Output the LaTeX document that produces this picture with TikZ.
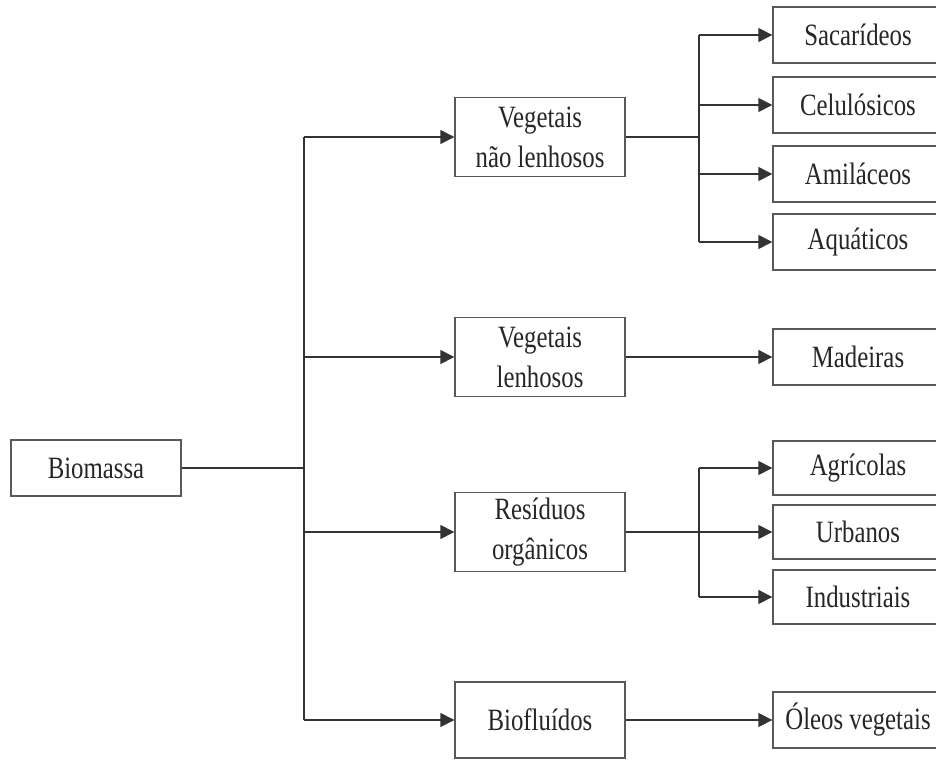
\documentclass[tikz,border=0pt]{standalone}
\usepackage{fontspec}
\setmainfont{Liberation Serif}[FakeStretch=0.8]
\usetikzlibrary{arrows.meta, positioning}

\begin{document}
\begin{tikzpicture}[
            x=1pt, y=-1pt,
            box/.style={draw=black!65, line width=1.4pt, minimum width=170pt, minimum height=56pt,
                inner sep=0pt, align=center, text=black!85, font=\fontsize{31}{40}\selectfont},
            catbox/.style={box, minimum height=79pt},
            link/.style={draw=black!80, line width=1.4pt},
            arrow/.style={link, -{Triangle[length=14pt, width=14pt]}}
        ]
            \useasboundingbox (0,0) rectangle (936,760);

            % Root
            \node[box] (bio) at (96,468) {Biomassa};

            % First level
            \node[catbox] (vnl) at (540,137) {Vegetais\\não lenhosos};
            \node[catbox] (vl) at (540,357) {Vegetais\\lenhosos};
            \node[catbox] (res) at (540,532) {Resíduos\\orgânicos};
            \node[catbox, minimum height=76pt] (flu) at (540,720) {Biofluídos};

            % Second level
            \node[box] (sac) at (858,35) {Sacarídeos};
            \node[box] (cel) at (858,105) {Celulósicos};
            \node[box] (ami) at (858,174) {Amiláceos};
            \node[box] (aqu) at (858,242) {Aquáticos};
            \node[box] (mad) at (858,357) {Madeiras};
            \node[box, minimum height=54pt] (agr) at (858,468) {Agrícolas};
            \node[box, minimum height=54pt] (urb) at (858,532) {Urbanos};
            \node[box, minimum height=54pt] (ind) at (858,597) {Industriais};
            \node[box] (ole) at (858,720) {Óleos vegetais};

            % Junctions
            \coordinate (j0) at (304,468);
            \coordinate (j1) at (699,0);

            % Root to first level
            \draw[link] (bio.east) -- (j0);
            \draw[link] (j0 |- vnl) -- (j0 |- flu);
            \foreach \n in {vnl, vl, res, flu}
                \draw[arrow] (j0 |- \n) -- (\n.west);

            % Vegetais nao lenhosos
            \draw[link] (vnl.east) -- (j1 |- vnl);
            \draw[link] (j1 |- sac) -- (j1 |- aqu);
            \foreach \n in {sac, cel, ami, aqu}
                \draw[arrow] (j1 |- \n) -- (\n.west);

            % Vegetais lenhosos
            \draw[arrow] (vl.east) -- (mad.west);

            % Residuos organicos
            \draw[arrow] (res.east) -- (urb.west);
            \draw[link] (j1 |- agr) -- (j1 |- ind);
            \foreach \n in {agr, ind}
                \draw[arrow] (j1 |- \n) -- (\n.west);

            % Biofluidos
            \draw[arrow] (flu.east) -- (ole.west);

        \end{tikzpicture}
\end{document}
